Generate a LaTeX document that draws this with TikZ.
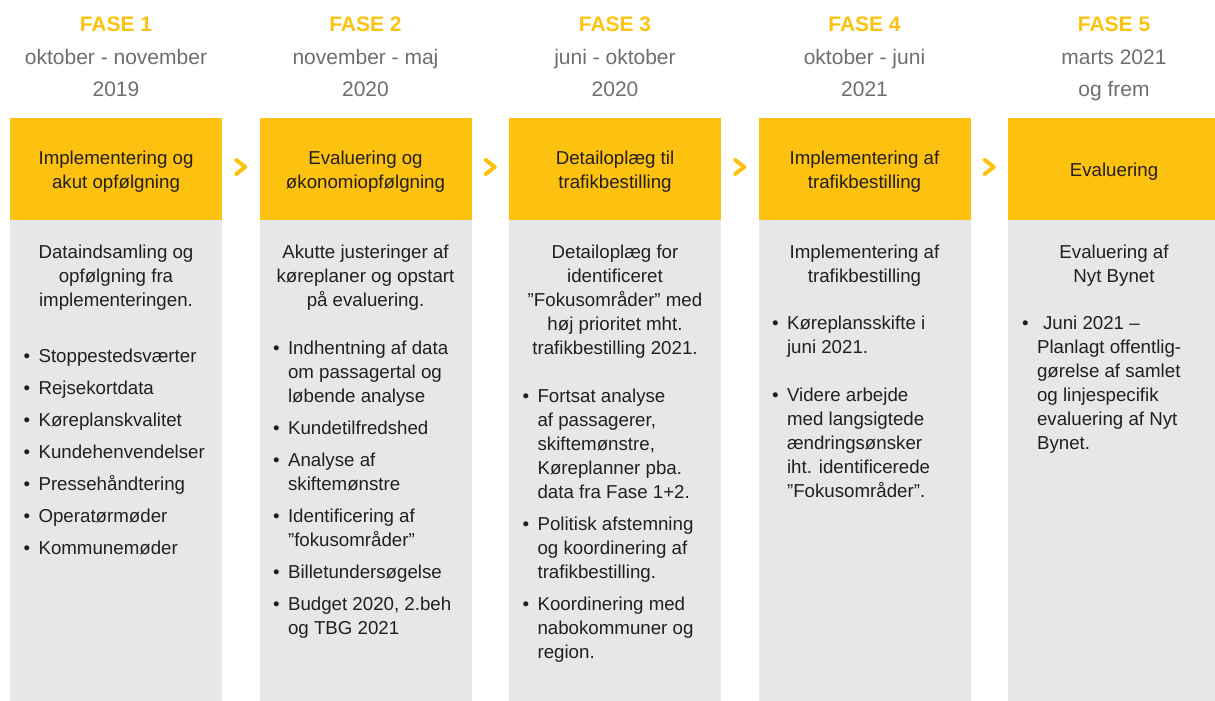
\documentclass[tikz,border=0pt]{standalone}
\usepackage{fontspec}
\setmainfont{Liberation Sans}
\usetikzlibrary{positioning, calc}
\definecolor{gul}{RGB}{253,194,16}
\definecolor{lysgraa}{RGB}{230,231,232}
\definecolor{graatekst}{RGB}{109,110,113}
\definecolor{morktekst}{RGB}{35,31,32}
\newcommand\tekst{\fontsize{18.7}{24}\selectfont}
% punktliste: bullet in first column, text in second
\newenvironment{punkter}{\begin{tabular}{@{}l@{\hspace{8.5pt}}l@{}}}{\end{tabular}}

\begin{document}
\begin{tikzpicture}[x=1pt, y=-1pt,
  fase/.style={font=\bfseries\fontsize{21}{24}\selectfont, text=gul, inner sep=0pt},
  dato/.style={font=\fontsize{21}{32}\selectfont, text=graatekst, align=center, inner sep=0pt, anchor=north},
  hoved/.style={fill=gul, minimum width=212pt, minimum height=102pt, inner sep=0pt},
  hovedtekst/.style={align=center, font=\tekst, text=morktekst, inner sep=0pt},
  krop/.style={fill=lysgraa, minimum width=212pt, minimum height=481pt, inner sep=0pt, anchor=north},
  intro/.style={font=\tekst, text=morktekst, align=center, inner sep=0pt, anchor=north},
  liste/.style={font=\tekst, text=morktekst, inner sep=0pt, anchor=north west},
  pil/.style={draw=gul, line width=4pt, line cap=round, line join=round}]
  \useasboundingbox (0,0) rectangle (1215,701);

  % faser
  \foreach \i/\dat/\hov/\intr in {
    1/{oktober - november\\2019}/{Implementering og\\akut opfølgning}/{Dataindsamling og\\opfølgning fra\\implementeringen.},
    2/{november - maj\\2020}/{Evaluering og\\økonomiopfølgning}/{Akutte justeringer af\\køreplaner og opstart\\på evaluering.},
    3/{juni - oktober\\2020}/{Detailoplæg til\\trafikbestilling}/{Detailoplæg for\\identificeret\\”Fokusområder” med\\høj prioritet mht.\\trafikbestilling 2021.},
    4/{oktober - juni\\2021}/{Implementering af\\trafikbestilling}/{Implementering af\\trafikbestilling},
    5/{marts 2021\\og frem}/{Evaluering}/{Evaluering af\\Nyt Bynet}} {
    \node[fase] (f\i) at ({116+(\i-1)*249.5}, 24) {FASE \i};
    \node[dato] (d\i) at ({116+(\i-1)*249.5}, 49.5) {\dat};
    \node[hoved] (h\i) at ({116+(\i-1)*249.5}, 169) {};
    \node[hovedtekst] (t\i) at ($(h\i.center)+(0,3)$) {\hov};
    \node[krop] (k\i) at (h\i.south) {};
    \node[intro] (i\i) at ($(h\i.south)+(0,24.5)$) {\intr};
  }

  % pile mellem faserne
  \foreach \i [evaluate=\i as \j using int(\i+1)] in {1,...,4}
    \draw[pil] ($(h\i.east)!0.5!(h\j.west)+(-4.5,-9)$) -- ++(9,7) -- ++(-9,7);

  % punkter
  \node[liste] (l1) at ($(k1.north west)+(13.5,125)$) {\begin{punkter}
    \textbullet & Stoppestedsværter\\[8pt]
    \textbullet & Rejsekortdata\\[8pt]
    \textbullet & Køreplanskvalitet\\[8pt]
    \textbullet & Kundehenvendelser\\[8pt]
    \textbullet & Pressehåndtering\\[8pt]
    \textbullet & Operatørmøder\\[8pt]
    \textbullet & Kommunemøder
  \end{punkter}};
  \node[liste] (l2) at ($(k2.north west)+(13.5,117)$) {\begin{punkter}
    \textbullet & Indhentning af data\\ & om passagertal og\\ & løbende analyse\\[8pt]
    \textbullet & Kundetilfredshed\\[8pt]
    \textbullet & Analyse af\\ & skiftemønstre\\[8pt]
    \textbullet & Identificering af\\ & ”fokusområder”\\[8pt]
    \textbullet & Billetundersøgelse\\[8pt]
    \textbullet & Budget 2020, 2.beh\\ & og TBG 2021
  \end{punkter}};
  \node[liste] (l3) at ($(k3.north west)+(13.5,165)$) {\begin{punkter}
    \textbullet & Fortsat analyse\\ & af passagerer,\\ & skiftemønstre,\\ & Køreplanner pba.\\ & data fra Fase 1+2.\\[8pt]
    \textbullet & Politisk afstemning\\ & og koordinering af\\ & trafikbestilling.\\[8pt]
    \textbullet & Koordinering med\\ & nabokommuner og\\ & region.
  \end{punkter}};
  \node[liste] (l4) at ($(k4.north west)+(13.5,92)$) {\begin{punkter}
    \textbullet & Køreplansskifte i\\ & juni 2021.\\[24pt]
    \textbullet & Videre arbejde\\ & med langsigtede\\ & ændringsønsker\\ & iht. identificerede\\ & ”Fokusområder”.
  \end{punkter}};
  \node[liste] (l5) at ($(k5.north west)+(14,92)$) {\begin{punkter}
    \textbullet & \hspace{6pt}Juni 2021 –\\ & Planlagt offentlig-\\ & gørelse af samlet\\ & og linjespecifik\\ & evaluering af Nyt\\ & Bynet.
  \end{punkter}};
\end{tikzpicture}
\end{document}
